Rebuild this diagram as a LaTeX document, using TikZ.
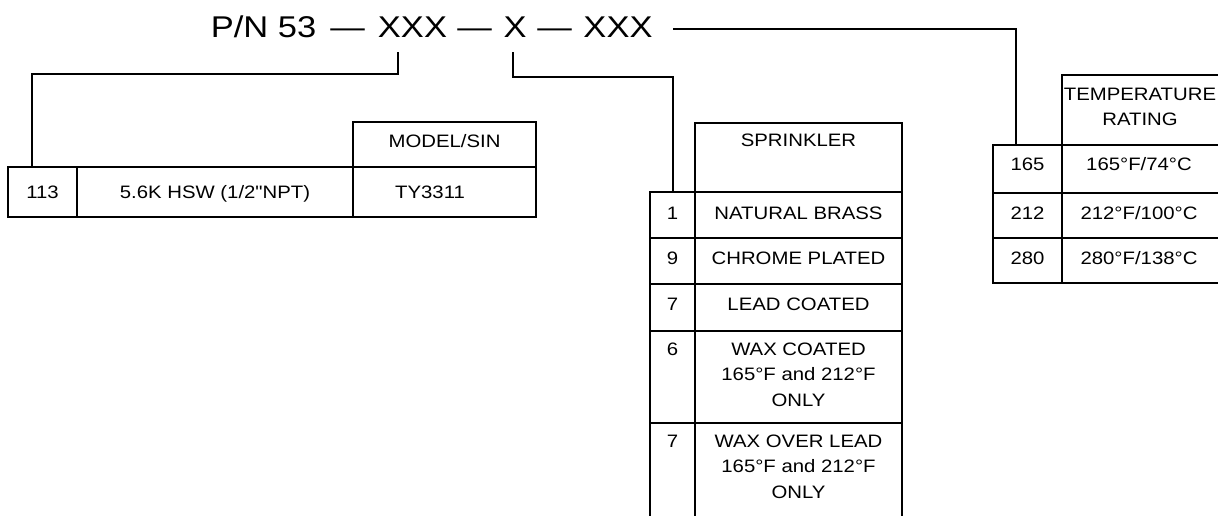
\documentclass[tikz,border=0pt]{standalone}
\usepackage{fontspec}
\setmainfont{Liberation Sans}[FakeStretch=1.13]
\newfontfamily\qfont{Liberation Sans}[FakeStretch=1.13, Ligatures=TeXOff]
\newfontfamily\titlefont{Liberation Sans}[FakeStretch=1.15]
\tikzset{
  box/.style={draw, line width=2.7pt, inner sep=0pt, outer sep=0pt},
  conn/.style={draw, line width=2.7pt},
  txt/.style={inner sep=0pt, font=\fontsize{18}{25.5}\selectfont, text height=12.9pt, text depth=0pt},
  mtxt/.style={inner sep=0pt, font=\fontsize{18}{25.5}\selectfont, align=center, anchor=north},
  ttl/.style={inner sep=0pt, font=\titlefont\fontsize{30}{36}\selectfont, anchor=base},
}
\newcommand\cellbox[5]{\node[box, minimum width={(#4-#2)*1pt}, minimum height={(#5-#3)*1pt}] (#1) at ({(#2+#4)/2},{(#3+#5)/2}) {};}
\begin{document}
\begin{tikzpicture}[x=1pt, y=-1pt]
\fill[white] (0,0) rectangle (1218,515);
\useasboundingbox (0,0) rectangle (1218,515);

% title
\node[ttl] (pn) at (263.5,37) {P/N 53};
\node[ttl] (d1) at (347.5,37) {—};
\node[ttl] (x1) at (412.5,37) {XXX};
\node[ttl] (d2) at (474.5,37) {—};
\node[ttl] (x2) at (515,37) {X};
\node[ttl] (d3) at (554.5,37) {—};
\node[ttl] (x3) at (618,37) {XXX};

% left table
\cellbox{hmodel}{353}{122}{536}{167}
\cellbox{n113}{8}{167}{77}{217}
\cellbox{ndesc}{77}{167}{353}{217}
\cellbox{nmodel}{353}{167}{536}{217}
\node[txt] (tmodel) at (444.5,141) {MODEL/SIN};
\node[txt] (t113) at (42.5,192.5) {113};
\node[txt] (tdesc) at (215,192.5) {5.6K HSW (1/2{\qfont"}NPT)};
\node[txt] (tty) at (430,192.5) {TY3311};

% sprinkler table
\cellbox{hspr}{695}{123}{902}{192}
\cellbox{s1n}{650}{192}{695}{238}
\cellbox{s1t}{695}{192}{902}{238}
\cellbox{s2n}{650}{238}{695}{284}
\cellbox{s2t}{695}{238}{902}{284}
\cellbox{s3n}{650}{284}{695}{331}
\cellbox{s3t}{695}{284}{902}{331}
\cellbox{s4n}{650}{331}{695}{423}
\cellbox{s4t}{695}{331}{902}{423}
\cellbox{s5n}{650}{423}{695}{522}
\cellbox{s5t}{695}{423}{902}{522}
\node[txt] (tspr) at (798.5,140) {SPRINKLER};
\node[txt] (ts1n) at (672.5,213) {1};
\node[txt] (ts1t) at (798.5,213) {NATURAL BRASS};
\node[txt] (ts2n) at (672.5,258) {9};
\node[txt] (ts2t) at (798.5,258) {CHROME PLATED};
\node[txt] (ts3n) at (672.5,304) {7};
\node[txt] (ts3t) at (798.5,304) {LEAD COATED};
\node[txt] (ts4n) at (672.5,349) {6};
\node[mtxt] (ts4t) at (798.5,342.6) {WAX COATED\\165°F and 212°F\\ONLY};
\node[txt] (ts5n) at (672.5,441) {7};
\node[mtxt] (ts5t) at (798.5,434.6) {WAX OVER LEAD\\165°F and 212°F\\ONLY};

% temperature table
\cellbox{htemp}{1062}{75}{1224}{145}
\cellbox{r1n}{993}{145}{1062}{193}
\cellbox{r1t}{1062}{145}{1224}{193}
\cellbox{r2n}{993}{193}{1062}{238}
\cellbox{r2t}{1062}{193}{1224}{238}
\cellbox{r3n}{993}{238}{1062}{283}
\cellbox{r3t}{1062}{238}{1224}{283}
\node[mtxt] (ttemp) at (1140,87.6) {TEMPERATURE\\RATING};
\node[txt] (tr1n) at (1027.5,164) {165};
\node[txt] (tr1t) at (1139,164) {165°F/74°C};
\node[txt] (tr2n) at (1027.5,213.5) {212};
\node[txt] (tr2t) at (1139,213.5) {212°F/100°C};
\node[txt] (tr3n) at (1027.5,258.5) {280};
\node[txt] (tr3t) at (1139,258.5) {280°F/138°C};

% connectors
\coordinate (c1) at (398,52);
\coordinate (c1k) at (32,74);
\coordinate (c2) at (513,52);
\coordinate (c2k) at (673,77);
\coordinate (c3) at (673,29);
\coordinate (c3k) at (1016,29);
\draw[conn] (c1) |- (c1k) -- (c1k |- n113.north);
\draw[conn] (c2) |- (c2k) -- (c2k |- s1n.north);
\draw[conn] (c3) -- (c3k) -- (c3k |- r1n.north);
\end{tikzpicture}
\end{document}
